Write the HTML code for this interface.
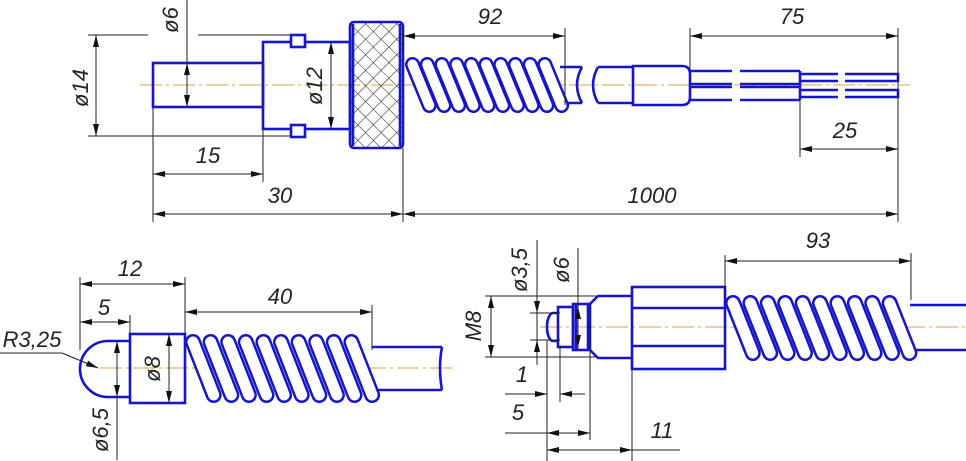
<!DOCTYPE html>
<html><head><meta charset="utf-8"><style>
html,body{margin:0;padding:0;background:#fff;width:966px;height:461px;overflow:hidden}
svg{display:block}
.b{fill:none;stroke:#1616c8;stroke-width:2.6}
.bw{fill:#fff;stroke:#1616c8;stroke-width:2.6}
.k{fill:none;stroke:#222;stroke-width:1}
.c{fill:none;stroke:#d9a040;stroke-width:0.9;stroke-dasharray:22 4 3 4}
text{font-family:"Liberation Sans",sans-serif;font-style:italic;font-size:22px;fill:#222}
</style></head><body>
<svg id="s" width="966" height="461" viewBox="0 0 966 461" xmlns="http://www.w3.org/2000/svg">
<defs>
<pattern id="h" width="11" height="11" patternUnits="userSpaceOnUse" patternTransform="rotate(45)">
<path d="M0 0V11M0 0H11" stroke="#222" stroke-width="1.1"/>
</pattern>
<marker id="a" viewBox="0 0 12 6" refX="12" refY="3" markerWidth="12" markerHeight="6" orient="auto-start-reverse" markerUnits="userSpaceOnUse"><path d="M0 0L12 3L0 6z" fill="#111"/></marker>
</defs>

<!-- ===== TOP VIEW ===== -->
<line class="c" x1="140" y1="85" x2="910" y2="85"/>
<rect class="b" x="153" y="63" width="110" height="44"/>
<rect class="b" x="263" y="42" width="87" height="87"/>
<rect class="bw" x="291" y="35" width="14" height="12"/>
<rect class="bw" x="291" y="125" width="14" height="12"/>
<rect x="350" y="22" width="53" height="126" rx="4" fill="url(#h)" stroke="#1616c8" stroke-width="2.6"/>
<line class="b" x1="353" y1="24" x2="353" y2="146"/><line class="b" x1="400" y1="24" x2="400" y2="146"/>
<!-- cable -->
<path class="b" d="M560 67H582 M560 103H582 M582 67Q572 85 582 103"/>
<path class="b" d="M598 67H633 M598 103H633 M598 67Q588 85 598 103"/>
<path class="b" d="M633 66H682Q690 66 690 74V97Q690 105 682 105H633Z"/>
<!-- wires -->
<path class="b" d="M690 71H732 M690 84H732 M690 87H732 M690 100H732 M740 71H800 M740 84H800 M740 87H800 M740 100H800"/>
<path class="b" d="M800 74H838 M800 81H838 M800 90H838 M800 97H838 M845 74H898V81H845 M845 90H898V97H845 M800 71V100"/>
<g id="sp1"></g>

<!-- top dims -->
<path class="k" d="M88 35H148 M198 35H290 M88 136H290 M153 107V222 M263 129V182 M403 148V222 M403 28V55 M565 28V105 M690 28V70 M898 28V222 M800 100V157 M187 0V63"/>
<line class="k" x1="96" y1="35" x2="96" y2="136" marker-start="url(#a)" marker-end="url(#a)"/>
<line class="k" x1="187" y1="63" x2="187" y2="107" marker-start="url(#a)" marker-end="url(#a)"/>
<line class="k" x1="331" y1="42" x2="331" y2="129" marker-start="url(#a)" marker-end="url(#a)"/>
<line class="k" x1="153" y1="174" x2="263" y2="174" marker-start="url(#a)" marker-end="url(#a)"/>
<line class="k" x1="153" y1="214" x2="403" y2="214" marker-start="url(#a)" marker-end="url(#a)"/>
<line class="k" x1="403" y1="214" x2="898" y2="214" marker-start="url(#a)" marker-end="url(#a)"/>
<line class="k" x1="403" y1="36" x2="565" y2="36" marker-start="url(#a)" marker-end="url(#a)"/>
<line class="k" x1="690" y1="36" x2="898" y2="36" marker-start="url(#a)" marker-end="url(#a)"/>
<line class="k" x1="800" y1="149" x2="898" y2="149" marker-start="url(#a)" marker-end="url(#a)"/>
<text transform="translate(88 88) rotate(-90)" text-anchor="middle">ø14</text>
<text transform="translate(178 20) rotate(-90)" text-anchor="middle">ø6</text>
<text transform="translate(322 86) rotate(-90)" text-anchor="middle">ø12</text>
<text x="208" y="163" text-anchor="middle">15</text>
<text x="280" y="203" text-anchor="middle">30</text>
<text x="652" y="203" text-anchor="middle">1000</text>
<text x="490" y="24" text-anchor="middle">92</text>
<text x="792" y="24" text-anchor="middle">75</text>
<text x="845" y="138" text-anchor="middle">25</text>

<!-- ===== BOTTOM LEFT ===== -->
<line class="c" x1="100" y1="368" x2="455" y2="368"/>
<path class="b" d="M130 341H108A28 28 0 0 0 108 397H130"/>
<rect class="b" x="130" y="334" width="55" height="69"/>
<path class="b" d="M372 347H442 M372 390H442 M442 347Q438 368 442 390"/>
<g id="sp2"></g>
<path class="k" d="M80 277V350 M185 277V334 M130 315V334 M372 305V350 M117 397V460"/>
<line class="k" x1="80" y1="284" x2="185" y2="284" marker-start="url(#a)" marker-end="url(#a)"/>
<line class="k" x1="80" y1="322" x2="130" y2="322" marker-start="url(#a)" marker-end="url(#a)"/>
<line class="k" x1="185" y1="312" x2="372" y2="312" marker-start="url(#a)" marker-end="url(#a)"/>
<line class="k" x1="117" y1="341" x2="117" y2="397" marker-start="url(#a)" marker-end="url(#a)"/>
<line class="k" x1="169" y1="334" x2="169" y2="403" marker-start="url(#a)" marker-end="url(#a)"/>
<path class="k" d="M0 353H62"/><line class="k" x1="62" y1="353" x2="98" y2="368" marker-end="url(#a)"/>
<text x="130" y="276" text-anchor="middle">12</text>
<text x="104" y="315" text-anchor="middle">5</text>
<text x="280" y="304" text-anchor="middle">40</text>
<text x="32" y="347" text-anchor="middle">R3,25</text>
<text transform="translate(108 430) rotate(-90)" text-anchor="middle">ø6,5</text>
<text transform="translate(160 369) rotate(-90)" text-anchor="middle">ø8</text>

<!-- ===== BOTTOM RIGHT ===== -->
<line class="c" x1="540" y1="327" x2="966" y2="327"/>
<path class="b" d="M558 313H553A6 14 0 0 0 553 341H558"/>
<rect class="b" x="558" y="307" width="15" height="40"/>
<rect class="b" x="573" y="304" width="15" height="46"/>
<line class="b" x1="576" y1="305" x2="576" y2="349"/>
<path class="b" d="M632 296H598L590 304V350L598 358H632"/>
<rect class="b" x="632" y="287" width="93" height="82"/>
<path class="b" d="M632 308H725 M632 346H725"/>
<path class="b" d="M910 305H966 M910 350H966"/>
<g id="sp3"></g>
<path class="k" d="M485 296H596 M485 357H596 M530 313H560 M530 340H560 M537 240V365 M578 248V350 M725 255V287 M911 253V300 M547 340V461 M560 346V402 M590 325V440 M632 369V461"/>
<line class="k" x1="491" y1="296" x2="491" y2="357" marker-start="url(#a)" marker-end="url(#a)"/>
<line class="k" x1="537" y1="296" x2="537" y2="313" marker-end="url(#a)"/>
<line class="k" x1="537" y1="357" x2="537" y2="340" marker-end="url(#a)"/>
<line class="k" x1="578" y1="307" x2="578" y2="347" marker-start="url(#a)" marker-end="url(#a)"/>
<line class="k" x1="725" y1="261" x2="911" y2="261" marker-start="url(#a)" marker-end="url(#a)"/>
<path class="k" d="M505 394H547 M560 394H585"/>
<line class="k" x1="530" y1="394" x2="547" y2="394" marker-end="url(#a)"/>
<line class="k" x1="577" y1="394" x2="560" y2="394" marker-end="url(#a)"/>
<path class="k" d="M505 433H590"/>
<line class="k" x1="547" y1="433" x2="590" y2="433" marker-start="url(#a)" marker-end="url(#a)"/>
<path class="k" d="M547 450H680"/>
<line class="k" x1="547" y1="450" x2="632" y2="450" marker-start="url(#a)" marker-end="url(#a)"/>
<text x="818" y="248" text-anchor="middle">93</text>
<text transform="translate(481 326) rotate(-90)" text-anchor="middle">M8</text>
<text transform="translate(527 270) rotate(-90)" text-anchor="middle">ø3,5</text>
<text transform="translate(569 270) rotate(-90)" text-anchor="middle">ø6</text>
<text x="522" y="382" text-anchor="middle">1</text>
<text x="518" y="420" text-anchor="middle">5</text>
<text x="662" y="438" text-anchor="middle">11</text>
</svg>
<script>
function spring(id,x0,x1,y0,y1,n,w){
 var g=document.getElementById(id),s='',p=(x1-x0-w)/n,sl=(y1-y0)*0.3,h=w/2;
 for(var i=0;i<n;i++){var x=x0+h+i*p;
  var d='M'+x+' '+(y0+h)+'L'+(x+sl)+' '+(y1-h);
  s+='<path d="'+d+'" stroke="#1616c8" stroke-width="'+w+'" stroke-linecap="round" fill="none"/>';
  s+='<path d="'+d+'" stroke="#fff" stroke-width="'+(w-5)+'" stroke-linecap="round" fill="none"/>';}
 g.innerHTML=s;}
spring('sp1',405,567,57,113,10,15);
spring('sp2',185,377,334,403,10,16);
spring('sp3',725,915,295,361,10,16);
</script>
</body></html>
